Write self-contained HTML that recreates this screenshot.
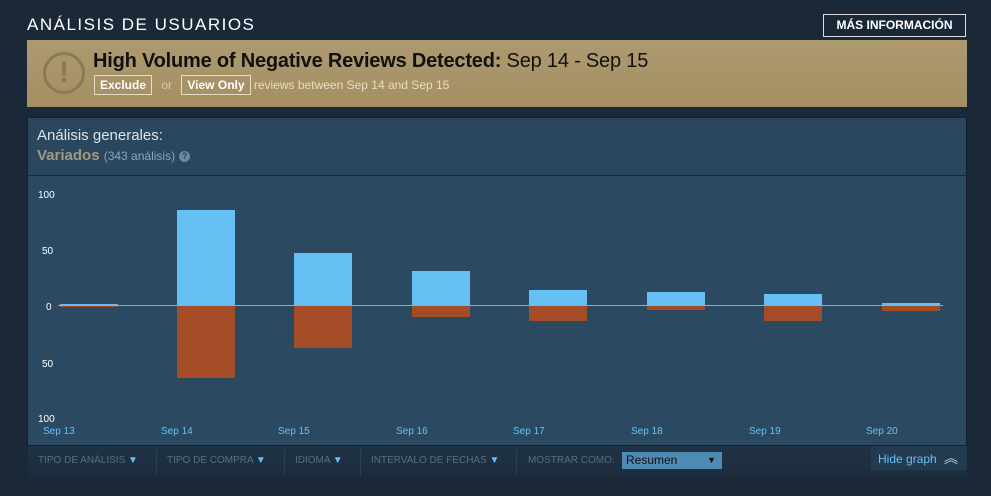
<!DOCTYPE html>
<html><head><meta charset="utf-8"><style>
body{margin:0;width:991px;height:496px;background:#1b2838;font-family:"Liberation Sans",sans-serif;position:relative;overflow:hidden}
.abs{position:absolute}
</style></head><body>
<div class="abs" style="left:27px;top:15px;color:#fff;font-size:17px;letter-spacing:1.5px;font-weight:normal">ANÁLISIS DE USUARIOS</div>
<div class="abs" style="left:823px;top:14px;width:141px;height:21px;border:1px solid #ddd;color:#fff;font-size:12px;text-align:center;line-height:21px;font-weight:bold">MÁS INFORMACIÓN</div>
<div class="abs" style="left:27px;top:40px;width:940px;height:67px;background:linear-gradient(#ae9a70,#a48f63)"></div>
<div class="abs" style="left:43px;top:52px;width:36px;height:36px;border:3px solid #8b7a55;border-radius:50%;color:#8b7a55;font-size:30px;font-weight:bold;text-align:center;line-height:36px">!</div>
<div class="abs" style="left:93px;top:50px;font-size:20px;color:#111;letter-spacing:-0.2px"><b>High Volume of Negative Reviews Detected:</b> Sep 14 - Sep 15</div>
<div class="abs" style="left:94px;top:78px;font-size:12px;color:#e6dcc4">
<span style="border:1px solid #e6dcc4;padding:2px 5px;color:#fff;font-weight:bold">Exclude</span>
<span style="margin:0 6px;color:#d8cbb0">or</span>
<span style="border:1px solid #e6dcc4;padding:2px 5px;color:#fff;font-weight:bold">View Only</span>
<span style="color:#e6dcc4"> reviews between Sep 14 and Sep 15</span></div>
<div class="abs" style="left:27px;top:117px;width:940px;height:329px;background:#2a475e;border:1px solid #16202d;box-sizing:border-box"></div>
<div class="abs" style="left:37px;top:127px;color:#dfe3e6;font-size:15px">Análisis generales:</div>
<div class="abs" style="left:37px;top:147px;font-size:15px;color:#a09b7f;font-weight:bold">Variados <span style="font-weight:normal;font-size:12px;color:#8ba6b6">(343 análisis)</span> <span style="display:inline-block;width:11px;height:11px;border-radius:50%;background:#6b8aa0;color:#2a475e;font-size:9px;text-align:center;line-height:11px;vertical-align:1px">?</span></div>
<div class="abs" style="left:28px;top:175px;width:938px;height:1px;background:#1b2838"></div>
<div class="abs" style="left:28px;top:176px;width:938px;height:269px;background:#2b4a62"></div>
<svg class="abs" style="left:0;top:0" width="991" height="496">
<g font-family="Liberation Sans" font-size="10" fill="#fff">
<text x="38" y="198">100</text><text x="42" y="254">50</text><text x="46" y="310">0</text><text x="42" y="367">50</text><text x="38" y="422">100</text>
</g>
<g fill="#66c0f4">
<rect x="60" y="304" width="58" height="2"/>
<rect x="177" y="210" width="58" height="96"/>
<rect x="294" y="253" width="58" height="53"/>
<rect x="412" y="271" width="58" height="35"/>
<rect x="529" y="290" width="58" height="16"/>
<rect x="647" y="292" width="58" height="14"/>
<rect x="764" y="294" width="58" height="12"/>
<rect x="882" y="303" width="58" height="3"/>
</g>
<g fill="#a34c25">
<rect x="60" y="306" width="58" height="1"/>
<rect x="177" y="306" width="58" height="72"/>
<rect x="294" y="306" width="58" height="42"/>
<rect x="412" y="306" width="58" height="11"/>
<rect x="529" y="306" width="58" height="15"/>
<rect x="647" y="306" width="58" height="4"/>
<rect x="764" y="306" width="58" height="15"/>
<rect x="882" y="306" width="58" height="5"/>
</g>
<rect x="58" y="305" width="885" height="1" fill="#7fb2d6"/>
<g font-family="Liberation Sans" font-size="10" fill="#66c0f4">
<text x="43" y="434">Sep 13</text><text x="161" y="434">Sep 14</text><text x="278" y="434">Sep 15</text><text x="396" y="434">Sep 16</text><text x="513" y="434">Sep 17</text><text x="631" y="434">Sep 18</text><text x="749" y="434">Sep 19</text><text x="866" y="434">Sep 20</text>
</g>
</svg>
<div class="abs" style="left:28px;top:446px;width:938px;height:31px;background:linear-gradient(#1f3346,#1c2c3c)"></div>
<div class="abs" style="top:455px;left:38px;font-size:10px;color:#56707f">TIPO DE ANÁLISIS <span style="color:#66c0f4">▼</span></div>
<div class="abs" style="top:455px;left:167px;font-size:10px;color:#56707f">TIPO DE COMPRA <span style="color:#66c0f4">▼</span></div>
<div class="abs" style="top:455px;left:295px;font-size:10px;color:#56707f">IDIOMA <span style="color:#66c0f4">▼</span></div>
<div class="abs" style="top:455px;left:371px;font-size:10px;color:#56707f">INTERVALO DE FECHAS <span style="color:#66c0f4">▼</span></div>
<div class="abs" style="top:455px;left:528px;font-size:10px;color:#56707f">MOSTRAR COMO:</div>
<div class="abs" style="left:156px;top:446px;width:1px;height:31px;background:#2a3f52"></div>
<div class="abs" style="left:284px;top:446px;width:1px;height:31px;background:#2a3f52"></div>
<div class="abs" style="left:360px;top:446px;width:1px;height:31px;background:#2a3f52"></div>
<div class="abs" style="left:516px;top:446px;width:1px;height:31px;background:#2a3f52"></div>
<div class="abs" style="left:622px;top:452px;width:100px;height:17px;background:#4d8bb4;color:#111;font-size:12px;line-height:17px;padding-left:4px;box-sizing:border-box">Resumen<span style="position:absolute;right:6px;font-size:9px">▼</span></div>
<div class="abs" style="left:871px;top:446px;width:96px;height:24px;background:#223b51;color:#66c0f4;font-size:12px;line-height:24px;padding-left:7px;box-sizing:border-box">Hide graph <span style="color:#c6d4df;font-size:14px;margin-left:4px">︽</span></div>
</body></html>
